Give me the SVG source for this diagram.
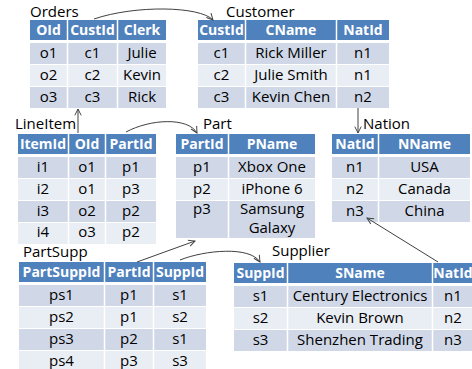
<svg xmlns="http://www.w3.org/2000/svg" width="472" height="369" viewBox="0 0 472 369">
<defs>
<style>
.h{fill:#4F81BD}
.a{fill:#D0D8E8}
.b{fill:#E9EDF4}
.sep{stroke:#FFFFFF;stroke-width:1.5}
.ht{font-family:"Open Sans","Liberation Sans",sans-serif;font-size:14px;font-weight:bold;fill:#FFFFFF;text-anchor:middle}
.bt{font-family:"Open Sans","Liberation Sans",sans-serif;font-size:15px;fill:#000000;text-anchor:middle}
.lb{font-family:"Open Sans","Liberation Sans",sans-serif;font-size:15px;fill:#000000}
.c{fill:none;stroke:#404040;stroke-width:1}
</style>
<marker id="ah" viewBox="0 0 10 10" refX="9" refY="5" markerWidth="8" markerHeight="8" orient="auto" markerUnits="userSpaceOnUse">
<path d="M1,1 L9,5 L1,9" fill="none" stroke="#404040" stroke-width="1.2"/>
</marker>
</defs>
<rect width="472" height="369" fill="#FFFFFF"/>

<g id="orders">
<text class="lb" x="30" y="17">Orders</text>
<rect class="h" x="30" y="20" width="136" height="20"/>
<rect class="a" x="30" y="43" width="136" height="21"/>
<rect class="b" x="30" y="65" width="136" height="21"/>
<rect class="a" x="30" y="87" width="136" height="21"/>
<line class="sep" x1="67.5" y1="20" x2="67.5" y2="108"/>
<line class="sep" x1="117.5" y1="20" x2="117.5" y2="108"/>
<text class="ht" x="48.5" y="35">OId</text><text class="ht" x="92.5" y="35">CustId</text><text class="ht" x="142" y="35">Clerk</text>
<text class="bt" x="48.5" y="58">o1</text><text class="bt" x="92.5" y="58">c1</text><text class="bt" x="142" y="58">Julie</text>
<text class="bt" x="48.5" y="80">o2</text><text class="bt" x="92.5" y="80">c2</text><text class="bt" x="142" y="80">Kevin</text>
<text class="bt" x="48.5" y="102">o3</text><text class="bt" x="92.5" y="102">c3</text><text class="bt" x="142" y="102">Rick</text>
</g>

<g id="customer">
<text class="lb" x="226" y="17">Customer</text>
<rect class="h" x="198" y="20" width="191" height="20"/>
<rect class="a" x="198" y="43" width="191" height="21"/>
<rect class="b" x="198" y="65" width="191" height="21"/>
<rect class="a" x="198" y="87" width="191" height="21"/>
<line class="sep" x1="245.5" y1="20" x2="245.5" y2="108"/>
<line class="sep" x1="336.5" y1="20" x2="336.5" y2="108"/>
<text class="ht" x="221.5" y="35">CustId</text><text class="ht" x="291" y="35">CName</text><text class="ht" x="363" y="35">NatId</text>
<text class="bt" x="221.5" y="58">c1</text><text class="bt" x="291" y="58">Rick Miller</text><text class="bt" x="363" y="58">n1</text>
<text class="bt" x="221.5" y="80">c2</text><text class="bt" x="291" y="80">Julie Smith</text><text class="bt" x="363" y="80">n1</text>
<text class="bt" x="221.5" y="102">c3</text><text class="bt" x="291" y="102">Kevin Chen</text><text class="bt" x="363" y="102">n2</text>
</g>

<g id="lineitem">
<text class="lb" x="15" y="129">LineItem</text>
<rect class="h" x="18" y="134" width="138" height="20"/>
<rect class="a" x="18" y="157" width="138" height="21"/>
<rect class="b" x="18" y="179" width="138" height="21"/>
<rect class="a" x="18" y="201" width="138" height="21"/>
<rect class="b" x="18" y="223" width="138" height="21"/>
<line class="sep" x1="68.5" y1="134" x2="68.5" y2="244"/>
<line class="sep" x1="105.5" y1="134" x2="105.5" y2="244"/>
<text class="ht" x="43" y="149">ItemId</text><text class="ht" x="87" y="149">OId</text><text class="ht" x="131" y="149">PartId</text>
<text class="bt" x="43" y="172">i1</text><text class="bt" x="87" y="172">o1</text><text class="bt" x="131" y="172">p1</text>
<text class="bt" x="43" y="194">i2</text><text class="bt" x="87" y="194">o1</text><text class="bt" x="131" y="194">p3</text>
<text class="bt" x="43" y="216">i3</text><text class="bt" x="87" y="216">o2</text><text class="bt" x="131" y="216">p2</text>
<text class="bt" x="43" y="237">i4</text><text class="bt" x="87" y="237">o3</text><text class="bt" x="131" y="237">p2</text>
</g>

<g id="part">
<text class="lb" x="203" y="129">Part</text>
<rect class="h" x="176" y="134" width="139" height="20"/>
<rect class="a" x="176" y="157" width="139" height="21"/>
<rect class="b" x="176" y="179" width="139" height="21"/>
<rect class="a" x="176" y="201" width="139" height="37"/>
<line class="sep" x1="228.5" y1="134" x2="228.5" y2="238"/>
<text class="ht" x="202" y="149">PartId</text><text class="ht" x="272" y="149">PName</text>
<text class="bt" x="202" y="172">p1</text><text class="bt" x="272" y="172">Xbox One</text>
<text class="bt" x="202" y="194">p2</text><text class="bt" x="272" y="194">iPhone 6</text>
<text class="bt" x="202" y="214">p3</text><text class="bt" x="272" y="214">Samsung</text>
<text class="bt" x="272" y="233">Galaxy</text>
</g>

<g id="nation">
<text class="lb" x="363" y="129">Nation</text>
<rect class="h" x="332" y="134" width="138" height="20"/>
<rect class="a" x="332" y="157" width="138" height="21"/>
<rect class="b" x="332" y="179" width="138" height="21"/>
<rect class="a" x="332" y="201" width="138" height="21"/>
<line class="sep" x1="378.5" y1="134" x2="378.5" y2="222"/>
<text class="ht" x="355" y="149">NatId</text><text class="ht" x="424.5" y="149">NName</text>
<text class="bt" x="355" y="172">n1</text><text class="bt" x="424.5" y="172">USA</text>
<text class="bt" x="355" y="194">n2</text><text class="bt" x="424.5" y="194">Canada</text>
<text class="bt" x="355" y="216">n3</text><text class="bt" x="424.5" y="216">China</text>
</g>

<g id="partsupp">
<text class="lb" x="23" y="257">PartSupp</text>
<rect class="h" x="19" y="262" width="187" height="20"/>
<rect class="a" x="19" y="285" width="187" height="21"/>
<rect class="b" x="19" y="307" width="187" height="21"/>
<rect class="a" x="19" y="329" width="187" height="21"/>
<rect class="b" x="19" y="351" width="187" height="21"/>
<line class="sep" x1="104.5" y1="262" x2="104.5" y2="372"/>
<line class="sep" x1="153.5" y1="262" x2="153.5" y2="372"/>
<text class="ht" x="61.5" y="277">PartSuppId</text><text class="ht" x="129" y="277">PartId</text><text class="ht" x="180" y="277">SuppId</text>
<text class="bt" x="61.5" y="300">ps1</text><text class="bt" x="129" y="300">p1</text><text class="bt" x="180" y="300">s1</text>
<text class="bt" x="61.5" y="322">ps2</text><text class="bt" x="129" y="322">p1</text><text class="bt" x="180" y="322">s2</text>
<text class="bt" x="61.5" y="344">ps3</text><text class="bt" x="129" y="344">p2</text><text class="bt" x="180" y="344">s1</text>
<text class="bt" x="61.5" y="366">ps4</text><text class="bt" x="129" y="366">p3</text><text class="bt" x="180" y="366">s3</text>
</g>

<g id="supplier">
<text class="lb" x="272" y="256">Supplier</text>
<rect class="h" x="234" y="263" width="240" height="20"/>
<rect class="a" x="234" y="286" width="240" height="21"/>
<rect class="b" x="234" y="308" width="240" height="21"/>
<rect class="a" x="234" y="330" width="240" height="21"/>
<line class="sep" x1="287.5" y1="263" x2="287.5" y2="351"/>
<line class="sep" x1="432.5" y1="263" x2="432.5" y2="351"/>
<text class="ht" x="260.5" y="278">SuppId</text><text class="ht" x="360" y="278">SName</text><text class="ht" x="453" y="278">NatId</text>
<text class="bt" x="260.5" y="301">s1</text><text class="bt" x="360" y="301">Century Electronics</text><text class="bt" x="453" y="301">n1</text>
<text class="bt" x="260.5" y="323">s2</text><text class="bt" x="360" y="323">Kevin Brown</text><text class="bt" x="453" y="323">n2</text>
<text class="bt" x="260.5" y="345">s3</text><text class="bt" x="360" y="345">Shenzhen Trading</text><text class="bt" x="453" y="345">n3</text>
</g>

<g id="connectors">
<path class="c" d="M94,19 C135,5 200,6 213,20" marker-end="url(#ah)"/>
<path class="c" d="M78,133 L78,109" marker-end="url(#ah)"/>
<path class="c" d="M126,132 C150,119 188,117 197,133" marker-end="url(#ah)"/>
<path class="c" d="M358,108 L358,133" marker-end="url(#ah)"/>
<path class="c" d="M137,262 L195,241" marker-end="url(#ah)"/>
<path class="c" d="M180,260 C205,250 250,246 260,262" marker-end="url(#ah)"/>
<path class="c" d="M438,262 L367,218" marker-end="url(#ah)"/>
</g>
</svg>
